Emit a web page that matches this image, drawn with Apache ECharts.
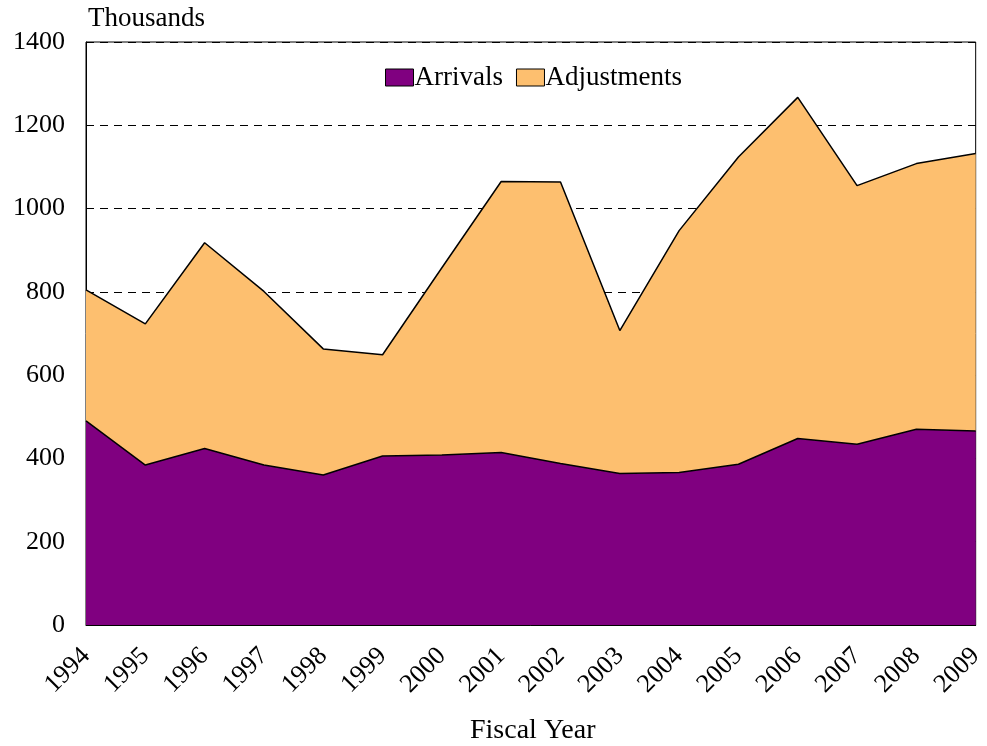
<!DOCTYPE html>
<html><head><meta charset="utf-8">
<script src="https://cdn.jsdelivr.net/npm/echarts@6/dist/echarts.min.js"></script>
<style>html,body{margin:0;padding:0;background:#fff}#c{width:987px;height:746px}</style>
</head><body><div id="c"></div>
<script>
const years = ['1994','1995','1996','1997','1998','1999','2000','2001','2002','2003','2004','2005','2006','2007','2008','2009'];
const arrivals = [490,384,424,384,360,406,408,414,388,364,366,386,448,434,470,466];
const adjustments = [315,339,494,417,303,243,450,651,676,343,581,738,819,621,638,666];
const yTicks = {min:0, max:1400, interval:200};
const F = 'Liberation Serif, Times New Roman, serif';
const chart = echarts.init(document.getElementById('c'), null, {renderer:'canvas'});
chart.setOption({
  animation:false,
  backgroundColor:'#fff',
  grid:{left:86, right:5, top:42, bottom:121, show:true, borderColor:'#000', borderWidth:1, backgroundColor:'transparent'},
  legend:{
    top:59, left:380, icon:'rect', itemWidth:28, itemHeight:17, itemGap:13,
    textStyle:{fontFamily:F, fontSize:27, color:'#000', padding:[0,0,0,-4]},
    itemStyle:{borderColor:'#000', borderWidth:1},
    data:['Arrivals','Adjustments']
  },
  graphic:[
    {type:'text', left:88, top:5, style:{text:'Thousands', font:'27px '+F, fill:'#000'}},
    {type:'text', left:470, top:717, style:{text:'Fiscal Year', font:'28px '+F, fill:'#000'}}
  ],
  xAxis:{
    type:'category', data:years, boundaryGap:false,
    axisLine:{show:true, lineStyle:{color:'#000', width:1}},
    axisTick:{show:false},
    axisLabel:{rotate:45, margin:27, fontFamily:F, fontSize:26, color:'#000', interval:0}
  },
  yAxis:{
    type:'value', min:yTicks.min, max:yTicks.max, interval:yTicks.interval,
    axisLine:{show:true, lineStyle:{color:'#000', width:1}},
    axisTick:{show:false},
    axisLabel:{margin:21, fontFamily:F, fontSize:26, color:'#000', formatter:v=>String(v)},
    splitLine:{show:true, lineStyle:{color:'#000', type:[8,6], width:1}}
  },
  series:[
    {name:'Arrivals', type:'line', stack:'t', data:arrivals, symbol:'none',
     lineStyle:{color:'#000', width:1.5}, itemStyle:{color:'#800080'},
     areaStyle:{color:'#800080', opacity:1}},
    {name:'Adjustments', type:'line', stack:'t', data:adjustments, symbol:'none',
     lineStyle:{color:'#000', width:1.5}, itemStyle:{color:'#FDBF6F'},
     areaStyle:{color:'#FDBF6F', opacity:1}}
  ]
});
</script></body></html>
